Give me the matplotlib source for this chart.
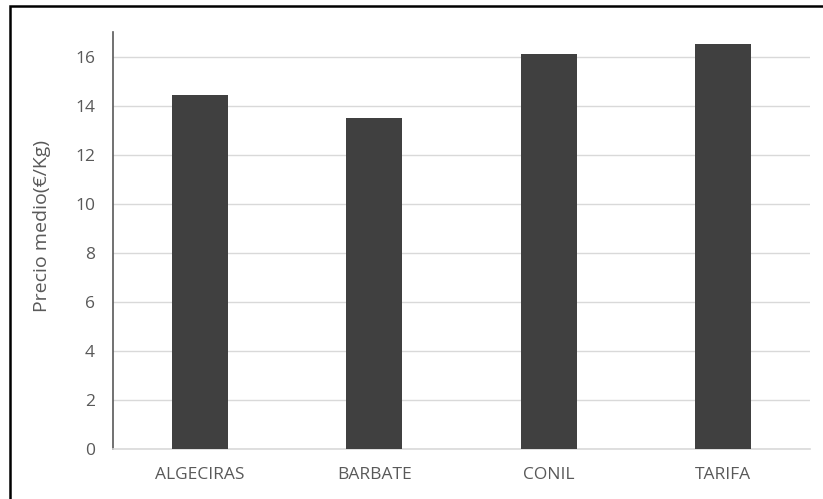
import matplotlib
matplotlib.use("Agg")
import matplotlib.pyplot as plt
from matplotlib.patches import Rectangle

categories = ["ALGECIRAS", "BARBATE", "CONIL", "TARIFA"]
precios = [14.45, 13.48, 16.1, 16.53]
yticks = [0, 2, 4, 6, 8, 10, 12, 14, 16]

W, H = 823, 499
fig = plt.figure(figsize=(W / 100, H / 100), dpi=100)
plt.rcParams['font.family'] = ['Open Sans', 'DejaVu Sans']

ax = fig.add_axes([113 / W, 1 - 449 / H, (810 - 113) / W, (449 - 32) / H])
x = list(range(len(categories)))
ax.bar(x, precios, width=0.32, color="#404040", zorder=3)
ax.set_xlim(-0.5, len(categories) - 0.5)
ax.set_ylim(0, 17)
ax.set_yticks(yticks)
ax.set_yticklabels([str(t) for t in yticks])
ax.set_xticks(x)
ax.set_xticklabels(categories)
ax.yaxis.grid(True, color="#d9d9d9", linewidth=1, zorder=0)
ax.set_axisbelow(True)
for s in ["top", "right"]:
    ax.spines[s].set_visible(False)
ax.spines["left"].set_color("#595959")
ax.spines["left"].set_linewidth(1.2)
ax.spines["bottom"].set_color("#d9d9d9")
ax.spines["bottom"].set_linewidth(1.2)
ax.tick_params(axis="both", length=0, colors="#595959", labelsize=12.5)
ax.tick_params(axis="y", pad=13)
ax.tick_params(axis="x", pad=13)
ax.set_ylabel("Precio medio(€/Kg)", color="#595959", fontsize=14)
ax.yaxis.set_label_coords(-0.0885, 0.535)

# outer frame
fig.patches.append(Rectangle((10 / W, -0.05), 1.1, 1 - 6 / H + 0.05, transform=fig.transFigure,
                             fill=False, edgecolor="black", linewidth=1.8))

fig.savefig("out.png", dpi=100)
